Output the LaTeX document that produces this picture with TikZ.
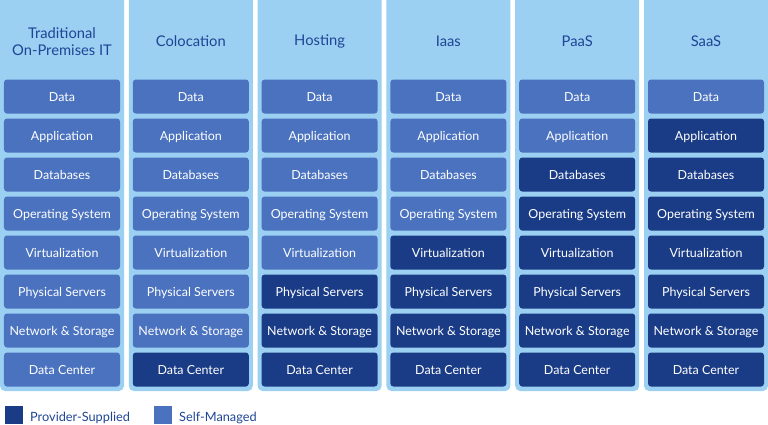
\documentclass[tikz,border=0pt]{standalone}
\usepackage{fontspec}
\setmainfont{Lato}
\definecolor{colbg}{HTML}{9BD0F2}
\definecolor{selfc}{HTML}{4A72BF}
\definecolor{provc}{HTML}{1A3C86}
\definecolor{headc}{HTML}{1E4595}
\begin{document}
\begin{tikzpicture}[x=1bp,y=-1bp,
  colbox/.style={fill=colbg,rounded corners=5bp},
  cell/.style={rounded corners=3bp,minimum width=116bp,minimum height=34bp,inner sep=0pt,text height=12bp,text depth=2bp,text=white,font=\fontsize{12.5}{14}\selectfont,anchor=center},
  selfcell/.style={cell,fill=selfc},
  provcell/.style={cell,fill=provc},
  head/.style={text=headc,font=\fontsize{14.8}{17.5}\selectfont,align=center,anchor=center},
  legtext/.style={text=headc,font=\fontsize{12.8}{14}\selectfont,anchor=base west,inner sep=0pt}]
\useasboundingbox (0,0) rectangle (768,424);
\def\rows{{"Data","Application","Databases","Operating System","Virtualization","Physical Servers","Network \& Storage","Data Center"}}
\foreach \c/\title/\first in {0/{Traditional\\On-Premises IT}/9,1/Colocation/8,2/Hosting/6,3/Iaas/5,4/PaaS/3,5/SaaS/2}{
  \pgfmathsetmacro{\xl}{\c*128.8}
  \fill[colbox] (\xl,-6) rectangle ++(124,397);
  \node[head] (h\c) at (\xl+62,41.5) {\title};
  \foreach \r in {1,...,8}{
    \pgfmathsetmacro{\yc}{96.5+(\r-1)*39}
    \pgfmathparse{\rows[\r-1]}\let\lbl\pgfmathresult
    \ifnum\r<\first
      \node[selfcell] (c\c-\r) at (\xl+62,\yc) {\lbl};
    \else
      \node[provcell] (c\c-\r) at (\xl+62,\yc) {\lbl};
    \fi
  }
}
\node[fill=provc,minimum size=18bp,inner sep=0pt,anchor=north west] (lp) at (5,406) {};
\node[legtext] (lpt) at (30,421) {Provider-Supplied};
\node[fill=selfc,minimum size=18bp,inner sep=0pt,anchor=north west] (ls) at (154,406) {};
\node[legtext] (lst) at (179,421) {Self-Managed};
\end{tikzpicture}
\end{document}
